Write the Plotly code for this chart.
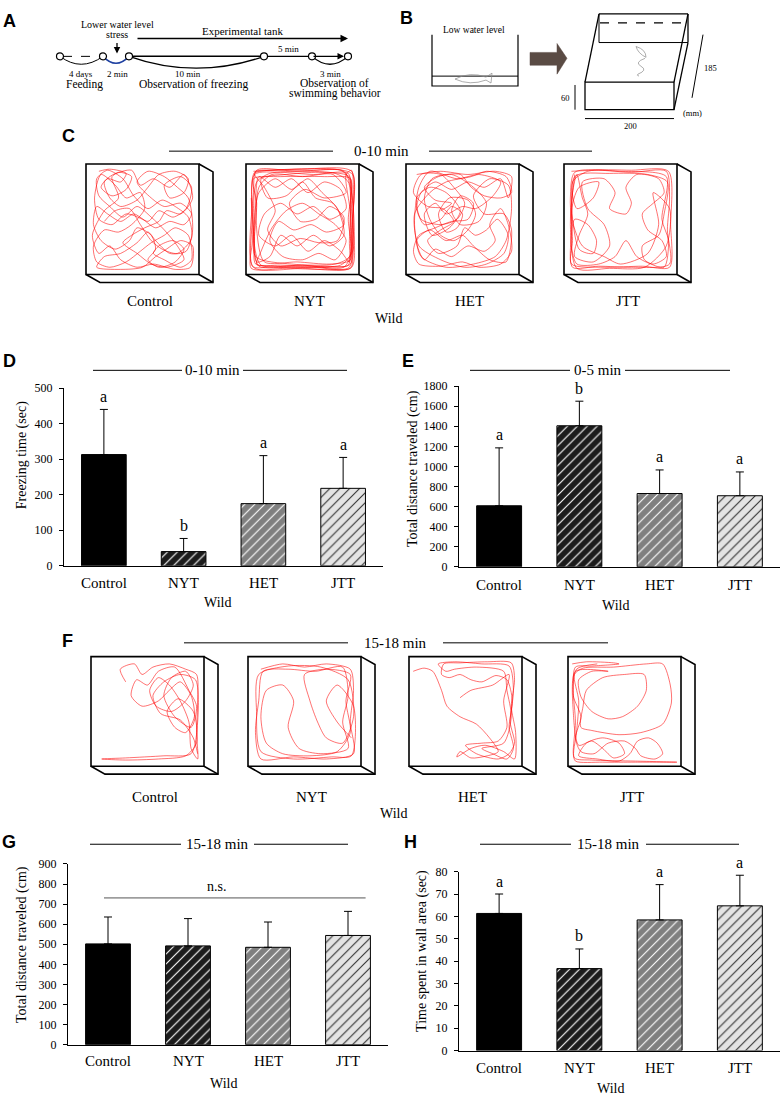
import plotly.graph_objects as go

W, H = 782, 1104
SERIF = "Liberation Serif"
SANS = "Liberation Sans"

CATEGORIES = ["Control", "NYT", "HET", "JTT"]

FREEZE_MEAN = [313, 40, 175, 218]
FREEZE_SD = [127, 37, 135, 87]
FREEZE_LETTERS = ["a", "b", "a", "a"]

DIST_0_5_MEAN = [608, 1405, 730, 708]
DIST_0_5_SD = [577, 245, 235, 237]
DIST_0_5_LETTERS = ["a", "b", "a", "a"]

DIST_15_18_MEAN = [502, 492, 485, 544]
DIST_15_18_SD = [134, 136, 126, 120]

WALL_MEAN = [61.4, 36.7, 58.5, 64.8]
WALL_SD = [8.7, 8.8, 15.8, 13.7]
WALL_LETTERS = ["a", "b", "a", "a"]

# swimming tracks, box units 0-100 (y up)
TRACK_C_CONTROL = [
    (10, 95), (20, 97), (35, 93), (30, 85), (18, 88), (12, 80), (22, 72), (35, 78), (40, 90), (28, 94),
    (15, 85), (20, 70), (30, 62), (45, 68), (55, 80), (65, 92), (80, 95), (92, 88), (88, 75), (75, 70),
    (70, 82), (85, 90), (95, 80), (90, 60), (78, 52), (65, 58), (55, 48), (42, 55), (30, 48), (18, 55),
    (8, 62), (5, 45), (12, 30), (25, 22), (38, 30), (45, 42), (58, 35), (62, 22), (55, 12), (65, 5),
    (80, 10), (88, 22), (78, 30), (65, 25), (60, 18), (70, 12), (85, 5), (95, 12), (92, 35), (80, 42),
    (70, 35), (58, 28), (48, 20), (35, 10), (20, 5), (8, 10), (5, 25), (15, 40), (28, 38), (40, 45),
    (52, 60), (48, 75), (35, 70), (25, 82), (12, 92), (6, 70), (10, 50), (22, 45), (35, 55), (50, 50),
    (62, 42), (75, 48), (88, 45), (95, 55), (85, 65), (70, 62), (58, 70), (45, 85), (55, 95), (70, 90),
    (82, 80), (92, 70), (96, 40), (90, 20), (75, 18), (62, 30), (55, 38), (45, 28), (30, 18), (15, 15),
    (8, 5), (30, 3), (50, 5), (62, 15), (72, 22), (85, 30), (96, 25), (94, 5), (80, 3), (60, 8),
    (45, 5), (30, 12), (20, 25), (10, 18), (4, 35), (15, 58), (28, 70), (22, 90), (40, 96), (48, 82),
    (60, 88), (75, 80), (88, 92), (96, 70), (85, 55), (72, 58), (65, 48), (52, 42), (40, 35), (32, 28),
    (45, 18), (58, 8), (72, 5), (88, 12), (82, 25), (70, 40), (58, 52), (45, 62), (32, 52), (20, 62),
    (10, 72), (8, 88), (18, 96), (32, 88), (42, 72), (55, 60), (68, 68), (80, 62), (92, 52), (95, 32),
    (82, 18), (68, 22), (58, 30), (48, 45), (38, 60), (25, 58), (15, 48),
]
TRACK_C_NYT = [
    (5, 95), (50, 97), (95, 95), (96, 50), (95, 5), (50, 4), (5, 5), (4, 50), (6, 92), (30, 94),
    (60, 92), (92, 93), (94, 70), (93, 30), (92, 7), (70, 6), (30, 7), (7, 8), (6, 30), (7, 70),
    (10, 90), (25, 80), (40, 88), (55, 75), (70, 85), (85, 78), (90, 60), (75, 50), (60, 62), (45, 55),
    (30, 65), (15, 55), (10, 35), (25, 25), (40, 35), (55, 20), (70, 30), (85, 20), (93, 10), (94, 40),
    (92, 85), (80, 93), (50, 95), (20, 93), (8, 85), (5, 60), (6, 20), (10, 6), (40, 5), (75, 5),
    (94, 8), (95, 60), (93, 90), (65, 94), (35, 92), (12, 88), (18, 70), (35, 72), (50, 85), (62, 70),
    (78, 65), (88, 45), (72, 38), (58, 45), (42, 40), (28, 48), (20, 30), (32, 15), (50, 12), (65, 18),
    (80, 12), (90, 30), (80, 45), (65, 55), (50, 65), (35, 58), (22, 42), (12, 20), (8, 8), (25, 6),
    (55, 6), (85, 7), (96, 20), (95, 75), (88, 95), (60, 96), (25, 96), (6, 94), (5, 40), (8, 10),
    (20, 15), (30, 35), (45, 25), (60, 35), (75, 25), (88, 35), (82, 60), (68, 75), (55, 88), (40, 78),
    (25, 88), (10, 75), (6, 50), (7, 15), (40, 8), (80, 8), (93, 15), (94, 55), (90, 92), (95, 96),
    (96, 30), (94, 4), (60, 5), (20, 5), (4, 6), (5, 75), (8, 96), (45, 95), (85, 96), (93, 88),
    (96, 65), (95, 20), (88, 5), (50, 7), (12, 7), (6, 25), (8, 65), (5, 88), (30, 90), (70, 90),
    (94, 88), (92, 50), (94, 12), (75, 8), (45, 10), (15, 10), (8, 40), (10, 80), (22, 92), (50, 90),
    (78, 92), (90, 75), (70, 70), (52, 78), (38, 65), (48, 48), (62, 50), (75, 62), (88, 52), (82, 30),
    (65, 28), (48, 32), (30, 25), (18, 40), (25, 58), (15, 80), (6, 93), (40, 97), (80, 97), (96, 92),
    (95, 40), (93, 5), (70, 3), (35, 4), (3, 4), (4, 30), (3, 70),
]
TRACK_C_HET = [
    (8, 92), (30, 95), (55, 92), (80, 95), (95, 90), (92, 70), (85, 88), (70, 80), (55, 85), (40, 78),
    (25, 85), (12, 75), (8, 60), (15, 45), (30, 50), (40, 62), (50, 55), (45, 42), (35, 38), (28, 55),
    (38, 70), (55, 68), (62, 55), (55, 40), (42, 30), (30, 35), (20, 50), (15, 70), (22, 88), (40, 92),
    (60, 80), (72, 65), (65, 48), (48, 45), (40, 58), (48, 72), (60, 65), (55, 50), (40, 48), (25, 42),
    (10, 35), (5, 20), (10, 8), (30, 6), (50, 10), (65, 5), (85, 8), (95, 20), (92, 45), (85, 60),
    (75, 45), (80, 30), (70, 20), (55, 25), (40, 15), (25, 22), (15, 12), (8, 30), (20, 40), (35, 30),
    (50, 35), (60, 25), (75, 12), (90, 10), (95, 40), (88, 55), (70, 55), (60, 72), (75, 88), (92, 82),
    (95, 60), (90, 30), (80, 15), (60, 8), (35, 5), (12, 15), (6, 45), (10, 80), (20, 95), (45, 88),
    (65, 92), (85, 85), (78, 72), (62, 60), (50, 62), (35, 55), (25, 65), (15, 55), (22, 35), (38, 42),
    (48, 58), (35, 75), (20, 80), (8, 70), (12, 50), (30, 45), (45, 50), (52, 65), (42, 80), (30, 92),
    (12, 92), (5, 75), (18, 62), (32, 60), (42, 48), (30, 40), (18, 30), (28, 18), (45, 25), (52, 42),
    (62, 35), (72, 40), (82, 50), (92, 35), (88, 18), (72, 8), (52, 5), (30, 12), (10, 25), (6, 55),
    (20, 75), (35, 85), (58, 90), (72, 95), (90, 90), (95, 75), (85, 70), (70, 72), (58, 80), (48, 92),
    (28, 90), (15, 80), (25, 68), (40, 65), (30, 58),
]
TRACK_C_JTT = [
    (5, 95), (30, 96), (60, 94), (92, 95), (95, 70), (93, 40), (95, 8), (60, 5), (30, 6), (6, 5),
    (5, 40), (6, 75), (10, 92), (15, 70), (20, 55), (12, 35), (8, 15), (25, 10), (40, 25), (35, 45),
    (20, 60), (15, 85), (35, 88), (45, 75), (40, 60), (55, 55), (60, 65), (55, 80), (65, 92), (85, 88),
    (90, 75), (80, 65), (70, 55), (75, 40), (88, 30), (92, 15), (80, 8), (65, 15), (55, 30), (45, 15),
    (30, 8), (10, 8), (5, 25), (8, 50), (20, 45), (28, 30), (25, 18), (12, 22), (8, 90), (40, 93),
    (75, 92), (93, 85), (90, 55), (85, 35), (70, 25), (72, 12), (90, 5), (94, 30), (88, 50), (92, 90),
    (50, 95), (8, 94), (4, 70), (6, 30), (5, 8), (35, 5), (70, 6), (95, 5), (96, 45), (94, 95),
    (60, 96), (20, 95), (6, 85), (10, 60), (25, 70), (30, 85), (12, 80), (5, 55), (15, 25), (35, 15),
    (50, 8), (75, 18), (85, 45), (80, 75), (95, 60), (92, 25), (72, 5), (40, 4), (10, 4), (4, 45),
    (8, 92),
]
TRACK_F_CONTROL = [
    (30, 78), (25, 90), (38, 95), (45, 85), (55, 92), (70, 95), (85, 90), (95, 85), (96, 60), (95, 30),
    (96, 5), (90, 15), (88, 40), (80, 60), (70, 75), (60, 82), (52, 70), (58, 55), (72, 50), (85, 60),
    (92, 75), (85, 88), (72, 82), (65, 65), (75, 45), (90, 35), (95, 55), (88, 70), (75, 92), (60, 88),
    (50, 75), (40, 80), (35, 65), (45, 55), (60, 60), (70, 70), (80, 78), (90, 65), (93, 45), (85, 30),
    (75, 35), (68, 50), (78, 62), (92, 50), (95, 20), (85, 8), (60, 5), (30, 4), (8, 5), (30, 6),
    (65, 8), (90, 10), (96, 40), (94, 80), (80, 85), (65, 78), (55, 65), (62, 48), (80, 42), (92, 25),
    (96, 10),
]
TRACK_F_NYT = [
    (10, 90), (30, 95), (50, 92), (70, 95), (92, 90), (95, 70), (92, 40), (95, 10), (70, 5), (40, 7),
    (10, 5), (5, 30), (8, 60), (12, 88), (35, 90), (60, 88), (85, 92), (90, 65), (85, 40), (90, 15),
    (65, 10), (45, 15), (35, 35), (40, 60), (30, 75), (15, 70), (10, 45), (15, 20), (30, 10), (55, 8),
    (80, 12), (92, 30), (88, 60), (92, 85), (70, 90), (50, 85), (55, 60), (62, 40), (70, 25), (85, 20),
    (95, 45), (90, 80), (65, 92), (35, 93), (8, 85), (6, 50), (10, 12), (40, 5), (75, 7), (93, 8),
    (95, 55), (80, 75), (70, 60), (80, 40), (93, 25),
]
TRACK_F_HET = [
    (2, 88), (12, 91), (20, 88), (28, 70), (33, 55), (45, 45), (60, 38), (72, 25), (80, 12), (70, 8),
    (55, 6), (45, 12), (42, 7), (55, 15), (68, 18), (85, 12), (95, 5), (96, 30), (92, 55), (95, 80),
    (92, 96), (70, 97), (45, 96), (30, 95), (28, 85), (35, 82), (45, 85), (55, 80), (65, 78), (78, 84),
    (88, 80), (93, 60), (90, 35), (94, 15), (88, 5), (75, 10), (65, 15), (85, 20), (92, 45), (88, 70),
    (85, 88), (60, 92), (40, 90), (32, 88), (25, 95), (40, 97), (65, 95), (90, 93), (94, 70), (91, 40),
    (95, 20), (90, 10), (80, 5), (60, 10), (50, 18), (65, 20), (80, 22), (88, 35), (85, 60), (90, 85),
    (75, 75), (55, 70), (45, 63),
]
TRACK_F_JTT = [
    (2, 95), (15, 97), (40, 96), (45, 95), (20, 93), (5, 92), (3, 70), (5, 40), (3, 10), (5, 3),
    (30, 2), (60, 2), (98, 2), (60, 3), (20, 4), (4, 6), (6, 30), (8, 60), (4, 85), (12, 91),
    (40, 92), (70, 95), (85, 95), (92, 75), (93, 58), (85, 38), (65, 30), (45, 28), (20, 32), (10, 35),
    (12, 55), (15, 70), (30, 82), (50, 85), (68, 85), (70, 70), (62, 55), (48, 45), (35, 43), (20, 50),
    (10, 64), (8, 80), (20, 88), (35, 88), (5, 88), (3, 50), (8, 18), (20, 22), (30, 15), (40, 6),
    (50, 10), (45, 20), (30, 25), (15, 20), (8, 8), (25, 5), (45, 3), (55, 10), (62, 22), (72, 25),
    (80, 20), (85, 10), (78, 5), (65, 8), (60, 15), (50, 22), (35, 20), (22, 10), (10, 12), (5, 25),
    (10, 45), (3, 65), (6, 90), (25, 95),
]

TRACKS_C = [TRACK_C_CONTROL, TRACK_C_NYT, TRACK_C_HET, TRACK_C_JTT]
TRACKS_F = [TRACK_F_CONTROL, TRACK_F_NYT, TRACK_F_HET, TRACK_F_JTT]

BAR_FILL = ["#000000", "#1c1c1c", "#808080", "#e4e4e4"]
HATCH = ["", "/", "/", "/"]
HATCH_FG = ["#000000", "#ffffff", "#ffffff", "#333333"]


def fx(x):
    return x / W


def fy(y):
    return 1 - y / H


def pt(x, y):
    return "{:.5f},{:.5f}".format(fx(x), fy(y))


shapes = []
annotations = []
layout_axes = {}
traces = []


def text(x, y, s, size, family=SERIF, **kw):
    d = dict(x=fx(x), y=fy(y), xref="paper", yref="paper", text=s, showarrow=False,
             font=dict(family=family, size=size, color="black"),
             xanchor="center", yanchor="middle")
    d.update(kw)
    annotations.append(d)


def line(x0, y0, x1, y1, width=1, color="black", dash="solid"):
    shapes.append(dict(type="line", xref="paper", yref="paper",
                       x0=fx(x0), y0=fy(y0), x1=fx(x1), y1=fy(y1),
                       line=dict(color=color, width=width, dash=dash)))


def path(d, width=1, color="black", fill=None):
    s = dict(type="path", xref="paper", yref="paper", path=d,
             line=dict(color=color, width=width))
    if fill:
        s["fillcolor"] = fill
    shapes.append(s)


def arrow(hx, hy, tx, ty, width=1.2, size=1.0):
    annotations.append(dict(x=fx(hx), y=fy(hy), xref="paper", yref="paper", text="",
                            showarrow=True, ax=tx - hx, ay=ty - hy, arrowhead=2,
                            arrowsize=size, arrowwidth=width, arrowcolor="black"))


def circle(cx, cy, r):
    shapes.append(dict(type="circle", xref="paper", yref="paper",
                       x0=fx(cx - r), x1=fx(cx + r), y0=fy(cy + r), y1=fy(cy - r),
                       line=dict(color="black", width=1.2), fillcolor="white"))


def axis_names(n):
    if n == 1:
        return "xaxis", "yaxis", "x", "y"
    return "xaxis%d" % n, "yaxis%d" % n, "x%d" % n, "y%d" % n


def header(x0, x1, gap0, gap1, y, label):
    line(x0, y, gap0, y)
    line(gap1, y, x1, y)
    text((gap0 + gap1) / 2, y, label, 15)


# ---------- A: timeline ----------
text(9, 14, "<b>A</b>", 18, family=SANS)
line(63, 50, 100, 50, dash="dash")
path("M %s Q %s %s" % (pt(60, 50), pt(81, 66), pt(103, 50)))
path("M %s Q %s %s" % (pt(103, 50), pt(116, 64), pt(129, 50)), width=1.5, color="#1d3fa0")
line(129, 50, 264, 50, width=1.5)
path("M %s Q %s %s" % (pt(129, 50), pt(196, 74), pt(264, 50)), width=1.3)
line(264, 50, 312, 50, width=1.3)
path("M %s Q %s %s" % (pt(312, 50), pt(330, 66), pt(348, 50)), width=1.3)
for cx in [60, 103, 129, 264, 312, 348]:
    circle(cx, 50, 3.5)
arrow(344, 50, 312, 50, width=1.3)
arrow(117, 47, 117, 35, width=1.3)
arrow(348, 32, 136, 32, width=1.5)
text(117, 18, "Lower water level", 10)
text(117, 28, "stress", 10)
text(242, 24, "Experimental tank", 11)
text(288, 43, "5 min", 9)
text(81, 68, "4 days", 9)
text(117, 68, "2 min", 9)
text(188, 68, "10 min", 9)
text(330, 68, "3 min", 9)
text(84, 79, "Feeding", 11.5)
text(193, 79, "Observation of freezing", 11.5)
text(334, 77, "Observation of", 11.5)
text(335, 88, "swimming behavior", 11.5)

# ---------- B: tanks ----------
text(406, 11, "<b>B</b>", 18, family=SANS)
path("M %s L %s L %s L %s" % (pt(432, 28), pt(432, 80), pt(518, 80), pt(518, 28)), width=1.2)
line(432, 70, 518, 70, width=1)
text(474, 23, "Low water level", 9.5)
path("M %s Q %s %s L %s L %s L %s Q %s %s Z" % (
    pt(455, 73), pt(470, 65), pt(486, 71), pt(492, 67), pt(491, 77), pt(486, 74),
    pt(470, 80), pt(455, 73)), width=0.7, color="#8a8a8a")
path("M %s L %s L %s L %s L %s L %s L %s Z" % (
    pt(530, 46), pt(557, 46), pt(557, 37), pt(567, 52), pt(557, 68), pt(557, 59), pt(530, 59)),
    width=0.5, color="#5a4b44", fill="#5a4b44")
shapes.append(dict(type="rect", xref="paper", yref="paper", x0=fx(585), x1=fx(674),
                   y0=fy(104), y1=fy(76), line=dict(color="black", width=1.3)))
line(599, 7, 688, 7, width=1.3)
line(599, 36, 688, 36, width=1)
line(599, 7, 599, 36, width=1)
line(688, 7, 688, 36, width=1.3)
line(585, 76, 599, 7, width=1.3)
line(674, 76, 688, 7, width=1.3)
line(674, 104, 688, 36, width=1.3)
line(600, 16, 687, 16, width=1.2, dash="dash")
path("M %s Q %s %s Q %s %s Z" % (pt(636, 40), pt(646, 43), pt(646, 51), pt(638, 47), pt(636, 40)),
     width=0.7, color="#8a8a8a")
path("M %s Q %s %s Q %s %s Q %s %s" % (pt(645, 52), pt(634, 56), pt(641, 60),
                                       pt(648, 64), pt(638, 68), pt(636, 69), pt(639, 70)),
     width=0.7, color="#8a8a8a")
line(703, 28, 692, 92, width=1)
text(710, 62, "185", 8.5)
line(575, 79, 575, 104, width=1)
text(565, 92, "60", 8.5)
line(585, 113, 674, 113, width=1)
text(630, 121, "200", 8.5)
text(692, 107, "(mm)", 8.5)


# ---------- C and F: tracks ----------
def track_row(lefts, top, w, h, tracks, first_axis, label_y, wild_y):
    dx, dy = 14, 8
    for i, (x0, trk) in enumerate(zip(lefts, tracks)):
        n = first_axis + i
        xk, yk, xr, yr = axis_names(n)
        layout_axes[xk] = dict(domain=[fx(x0 + 2), fx(x0 + w - 2)], range=[0, 100],
                               visible=False, anchor=yr, fixedrange=True)
        layout_axes[yk] = dict(domain=[fy(top + h - 2), fy(top + 2)], range=[0, 100],
                               visible=False, anchor=xr, fixedrange=True)
        traces.append(go.Scatter(
            x=[p[0] for p in trk], y=[p[1] for p in trk], mode="lines",
            line=dict(color="rgba(255,0,0,0.8)", width=0.7, shape="spline", smoothing=0.75),
            xaxis=xr, yaxis=yr, hoverinfo="skip", showlegend=False))
        x1, y1 = x0 + w, top + h
        shapes.append(dict(type="rect", xref="paper", yref="paper", x0=fx(x0), x1=fx(x1),
                           y0=fy(y1), y1=fy(top), line=dict(color="black", width=1.6)))
        path("M %s L %s L %s L %s L %s" % (pt(x1, top), pt(x1 + dx, top + dy),
                                           pt(x1 + dx, y1 + dy), pt(x0 + dx, y1 + dy),
                                           pt(x0, y1)), width=1.6)
        line(x1, y1, x1 + dx, y1 + dy, width=1.6)
        text(x0 + (w + dx) / 2, label_y, CATEGORIES[i], 15)
    text((lefts[0] + lefts[-1] + w + dx) / 2, wild_y, "Wild", 14)


text(68, 131, "<b>C</b>", 18, family=SANS)
header(169, 592, 333, 429, 146, "0-10 min")
track_row([86, 246, 406, 564], 159, 113, 112, TRACKS_C, 5, 298, 315)

text(67, 642, "<b>F</b>", 18, family=SANS)
header(184, 608, 348, 443, 644, "15-18 min")
track_row([91, 248, 409, 568], 658, 113, 111, TRACKS_F, 9, 800, 817)


# ---------- D, E, G, H: bars ----------
def bar_panel(n, xpx, ypx, yrange, dtick, means, sds, letters, ytitle, title_pos, cat_y, wild_pos):
    xk, yk, xr, yr = axis_names(n)
    layout_axes[xk] = dict(domain=[fx(xpx[0]), fx(xpx[1])], anchor=yr, type="category",
                           categoryorder="array", categoryarray=CATEGORIES,
                           range=[-0.5, 3.5], showline=True, linecolor="black", linewidth=1,
                           ticks="", showticklabels=False, showgrid=False, zeroline=False,
                           fixedrange=True)
    layout_axes[yk] = dict(domain=[fy(ypx[1]), fy(ypx[0])], anchor=xr, range=yrange,
                           dtick=dtick, showline=True, linecolor="black", linewidth=1,
                           ticks="outside", ticklen=4, tickwidth=1, tickcolor="black",
                           tickfont=dict(family=SERIF, size=12, color="black"),
                           ticklabelstandoff=4, showgrid=False, zeroline=False, fixedrange=True)
    for c, m, s, fill, hatch, fg in zip(CATEGORIES, means, sds, BAR_FILL, HATCH, HATCH_FG):
        traces.append(go.Bar(
            x=[c], y=[m], width=0.56, xaxis=xr, yaxis=yr, showlegend=False,
            marker=dict(color=fill, line=dict(color="black", width=1),
                        pattern=dict(shape=hatch, fgcolor=fg, fgopacity=1, size=7,
                                     solidity=0.16, fillmode="overlay")),
            error_y=dict(type="data", symmetric=False, array=[s], arrayminus=[0],
                         color="black", thickness=1, width=4),
            hoverinfo="skip"))
    for c in CATEGORIES:
        annotations.append(dict(x=c, y=fy(cat_y), xref=xr, yref="paper", text=c,
                                showarrow=False, yanchor="middle",
                                font=dict(family=SERIF, size=15, color="black")))
    if letters:
        for c, m, s, t in zip(CATEGORIES, means, sds, letters):
            annotations.append(dict(x=c, y=m + s, xref=xr, yref=yr, text=t, showarrow=False,
                                    font=dict(family=SERIF, size=16, color="black"),
                                    yanchor="middle", yshift=13))
    text(title_pos[0], title_pos[1], ytitle, 14, textangle=-90)
    text(wild_pos[0], wild_pos[1], "Wild", 14)


text(9, 359, "<b>D</b>", 18, family=SANS)
header(93, 347, 182, 243, 368, "0-10 min")
bar_panel(1, (64, 383), (386, 566), [0, 500], 100, FREEZE_MEAN, FREEZE_SD, FREEZE_LETTERS,
          "Freezing time (sec)", (22, 454), 583, (217, 603))

text(408, 359, "<b>E</b>", 18, family=SANS)
header(470, 730, 570, 625, 368, "0-5 min")
bar_panel(2, (459, 780), (384, 567), [0, 1800], 200, DIST_0_5_MEAN, DIST_0_5_SD,
          DIST_0_5_LETTERS, "Total distance traveled (cm)", (413, 468), 585, (615, 606))

text(9, 846, "<b>G</b>", 18, family=SANS)
header(90, 348, 181, 254, 848, "15-18 min")
bar_panel(3, (68, 388), (868, 1051), [0, 900], 100, DIST_15_18_MEAN, DIST_15_18_SD, None,
          "Total distance traveled (cm)", (22, 950), 1068, (223, 1090))
shapes.append(dict(type="line", xref="x3", yref="y3", x0=-0.05, x1=3.22, y0=731, y1=731,
                   line=dict(color="#555555", width=1)))
annotations.append(dict(x=1.35, y=731, xref="x3", yref="y3", text="n.s.", showarrow=False,
                        font=dict(family=SERIF, size=14, color="black"),
                        yanchor="bottom", yshift=2))

text(410, 846, "<b>H</b>", 18, family=SANS)
header(480, 739, 571, 646, 848, "15-18 min")
bar_panel(4, (459, 780), (876, 1057), [0, 80], 10, WALL_MEAN, WALL_SD, WALL_LETTERS,
          "Time spent in wall area (sec)", (422, 956), 1075, (610, 1095))

fig = go.Figure(data=traces)
fig.update_layout(
    width=W, height=H,
    margin=dict(l=0, r=0, t=0, b=0),
    paper_bgcolor="white", plot_bgcolor="white",
    font=dict(family=SERIF, color="black"),
    shapes=shapes, annotations=annotations,
    barmode="overlay",
    **layout_axes,
)
# drop the browser's default body margin so the figure sits at the page origin
fig.write_html("out.html", config={"displayModeBar": False},
               post_script="document.body.style.margin = '0px';")
